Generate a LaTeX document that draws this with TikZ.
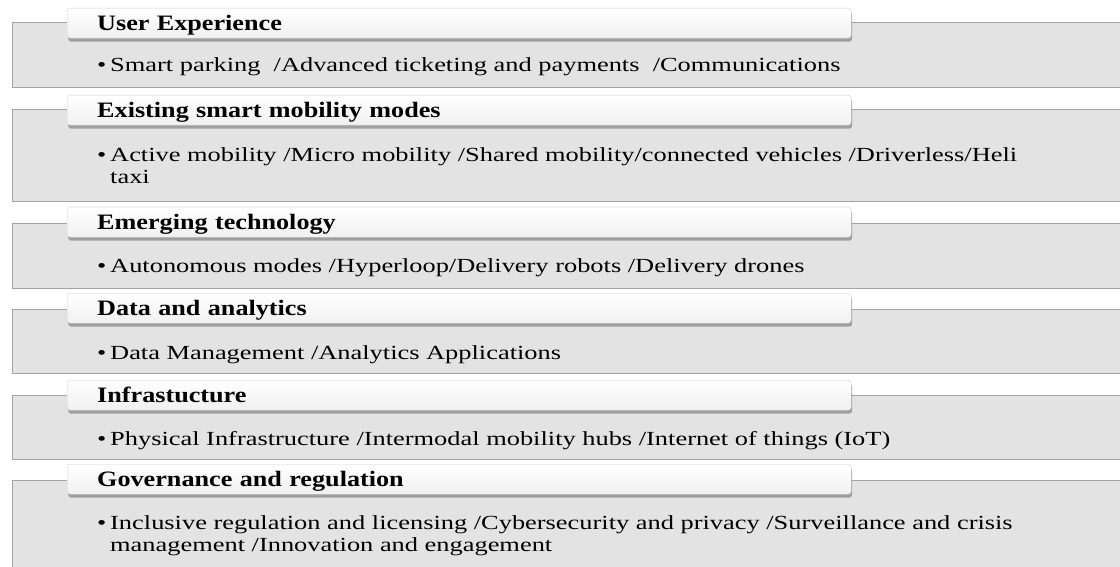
\documentclass[tikz,border=0pt]{standalone}
\usepackage{fontspec}
\setmainfont{Liberation Serif}
\newfontfamily\headfont[FakeStretch=1.19]{Liberation Serif}
\newfontfamily\itemfont[FakeStretch=1.32]{Liberation Serif}
\usetikzlibrary{shadows}

\definecolor{bandgray}{HTML}{E3E3E3}
\definecolor{bandline}{HTML}{A4A4A4}
\definecolor{tabshade}{HTML}{F0F0F0}

\tikzset{
  band/.style={draw=bandline, fill=bandgray, line width=1pt},
  tab/.style={draw=bandline!50, line width=0.4pt, rounded corners=3pt,
    top color=white, bottom color=tabshade,
    drop shadow={shadow xshift=1pt, shadow yshift=-3.5pt, opacity=0.6, fill=black!55},
    anchor=north west, minimum width=784pt, minimum height=30pt,
    text width=724pt, inner xsep=30pt, inner ysep=0pt, align=left,
    text height=16pt, text depth=2pt,
    font=\headfont\fontsize{22}{24}\selectfont\bfseries},
  bullet/.style={anchor=base west, inner sep=0pt, font=\itemfont\fontsize{20}{22}\selectfont},
  item/.style={anchor=base west, inner sep=0pt, font=\itemfont\fontsize{20}{22}\selectfont},
}

\begin{document}
\begin{tikzpicture}[x=1pt, y=-1pt]
\useasboundingbox (0,0) rectangle (1120,567);

% Bands
\draw[band] (12,23) rectangle (1130,88);
\draw[band] (12,110) rectangle (1130,202);
\draw[band] (12,223) rectangle (1130,288);
\draw[band] (12,309) rectangle (1130,373);
\draw[band] (12,395) rectangle (1130,459);
\draw[band] (12,480) rectangle (1130,580);

% Tabs
\node[tab] (ux) at (67,8) {User Experience};
\node[tab] (modes) at (67,95) {Existing smart mobility modes};
\node[tab] (tech) at (67,207) {Emerging technology};
\node[tab] (data) at (67,293) {Data and analytics};
\node[tab] (infra) at (67,380) {Infrastucture};
\node[tab] (gov) at (67,464) {Governance and regulation};

% Items
\node[bullet] (ux-b) at (97,71.5) {\textbullet};
\node[item] (ux-i) at (110,71.5) {Smart parking\ \ /Advanced ticketing and payments\ \ /Communications};

\node[bullet] (modes-b) at (97,161.5) {\textbullet};
\node[item] (modes-i) at (110,161.5) {Active mobility /Micro mobility /Shared mobility/connected vehicles /Driverless/Heli};
\node[item] (modes-j) at (110,183.5) {taxi};

\node[bullet] (tech-b) at (97,272.5) {\textbullet};
\node[item] (tech-i) at (110,272.5) {Autonomous modes /Hyperloop/Delivery robots /Delivery drones};

\node[bullet] (data-b) at (97,359.5) {\textbullet};
\node[item] (data-i) at (110,359.5) {Data Management /Analytics Applications};

\node[bullet] (infra-b) at (97,445.5) {\textbullet};
\node[item] (infra-i) at (110,445.5) {Physical Infrastructure /Intermodal mobility hubs /Internet of things (IoT)};

\node[bullet] (gov-b) at (97,529.5) {\textbullet};
\node[item] (gov-i) at (110,529.5) {Inclusive regulation and licensing /Cybersecurity and privacy /Surveillance and crisis};
\node[item] (gov-j) at (110,551.5) {management /Innovation and engagement};
\end{tikzpicture}
\end{document}
